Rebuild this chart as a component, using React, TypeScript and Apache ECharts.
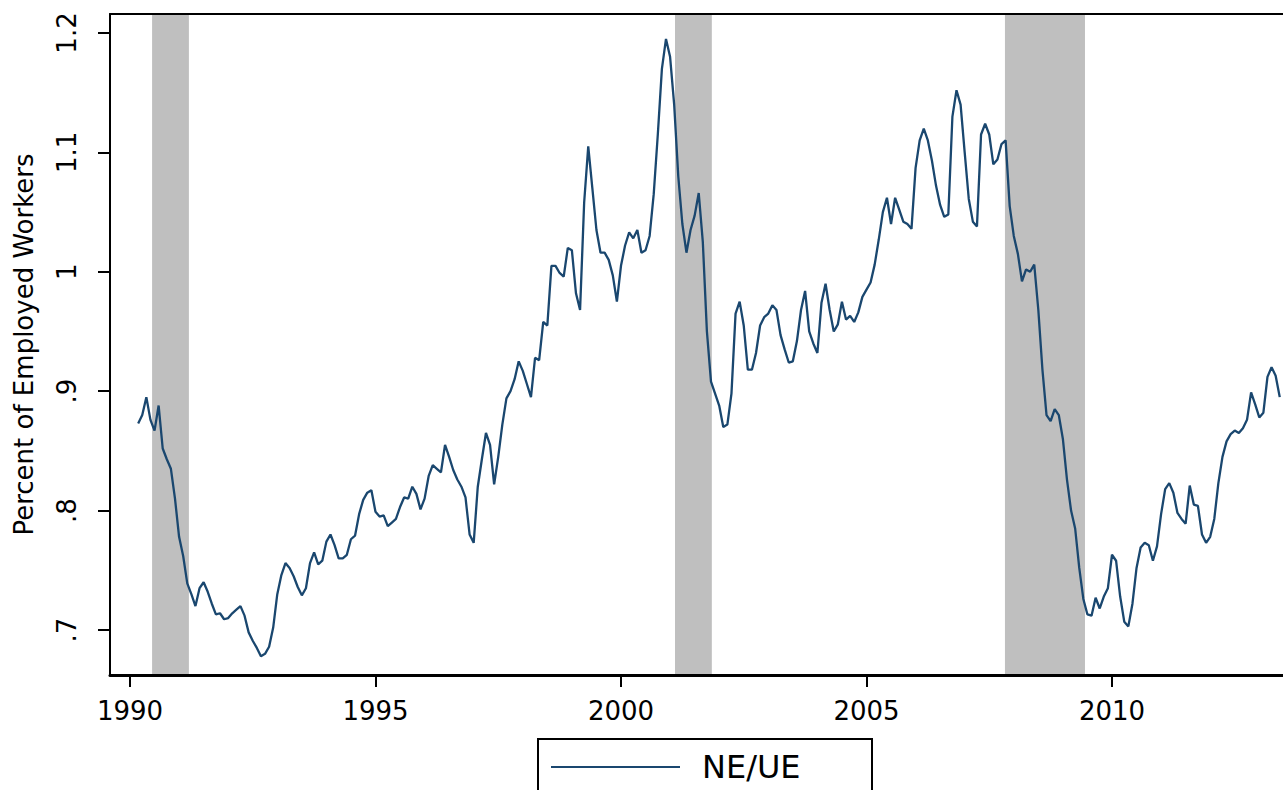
import { useEffect, useRef } from "react";
import * as echarts from "echarts";

// Monthly NE/UE series, first observation March 1990
const START_YEAR = 1990 + 2 / 12;

const neUe1990_93 = [
  0.873, 0.88, 0.895, 0.876, 0.867, 0.888, 0.852, 0.843, 0.835, 0.81,
  0.778, 0.762, 0.739, 0.73, 0.72, 0.735, 0.74, 0.732, 0.722, 0.713,
  0.714, 0.709, 0.71, 0.714, 0.717, 0.72, 0.712, 0.698, 0.691, 0.685,
  0.678, 0.68, 0.686, 0.702, 0.73, 0.746, 0.756, 0.752, 0.745, 0.736,
  0.729, 0.735, 0.756, 0.765, 0.755, 0.758, 0.774, 0.78,
];
const neUe1994_98 = [
  0.771, 0.76, 0.76, 0.763, 0.776, 0.779, 0.797, 0.809, 0.815, 0.817,
  0.799, 0.795, 0.796, 0.787, 0.79, 0.793, 0.803, 0.811, 0.81, 0.82,
  0.814, 0.801, 0.81, 0.829, 0.838, 0.835, 0.832, 0.855, 0.845, 0.834,
  0.826, 0.82, 0.811, 0.78, 0.773, 0.82, 0.843, 0.865, 0.855, 0.822,
  0.845, 0.872, 0.894, 0.9, 0.91, 0.925, 0.917, 0.906, 0.895,
];
const neUe1998_02 = [
  0.928, 0.926, 0.958, 0.955, 1.005, 1.005, 0.999, 0.996, 1.02, 1.018,
  0.982, 0.968, 1.058, 1.105, 1.07, 1.035, 1.016, 1.016, 1.01, 0.997,
  0.975, 1.005, 1.022, 1.033, 1.028, 1.035, 1.016, 1.018, 1.03, 1.065,
  1.115, 1.17, 1.195, 1.18, 1.14, 1.08, 1.04, 1.016, 1.035, 1.047,
  1.066, 1.025, 0.95, 0.908, 0.898, 0.888, 0.87, 0.872,
];
const neUe2002_06 = [
  0.898, 0.965, 0.975, 0.955, 0.918, 0.918, 0.932, 0.955, 0.962, 0.965,
  0.972, 0.968, 0.947, 0.935, 0.924, 0.925, 0.942, 0.968, 0.984, 0.95,
  0.94, 0.932, 0.974, 0.99, 0.968, 0.95, 0.956, 0.975, 0.96, 0.963,
  0.958, 0.966, 0.979, 0.985, 0.991, 1.006, 1.027, 1.05, 1.062, 1.04,
  1.062, 1.052, 1.042, 1.04, 1.036, 1.087, 1.11, 1.12,
];
const neUe2006_10 = [
  1.11, 1.093, 1.072, 1.056, 1.046, 1.048, 1.13, 1.152, 1.14, 1.1,
  1.061, 1.042, 1.038, 1.115, 1.124, 1.115, 1.09, 1.094, 1.107, 1.11,
  1.055, 1.03, 1.015, 0.992, 1.002, 1.0, 1.006, 0.968, 0.918, 0.88,
  0.875, 0.885, 0.88, 0.86, 0.826, 0.8, 0.785, 0.752, 0.726, 0.713,
  0.712, 0.727, 0.718, 0.728, 0.735, 0.763, 0.758, 0.728, 0.707,
];
const neUe2010_13 = [
  0.703, 0.722, 0.752, 0.769, 0.773, 0.771, 0.758, 0.77, 0.797, 0.818,
  0.823, 0.815, 0.798, 0.793, 0.789, 0.821, 0.805, 0.804, 0.78, 0.773,
  0.778, 0.793, 0.823, 0.845, 0.858, 0.864, 0.867, 0.865, 0.869, 0.876,
  0.899, 0.889, 0.878, 0.882, 0.912, 0.92, 0.913, 0.895,
];

// Recession periods (shaded bands), in decimal years
const recessions: [number, number][] = [
  [1990.45, 1991.2],
  [2001.1, 2001.85],
  [2007.82, 2009.45],
];

const xTicks = [1990, 1995, 2000, 2005, 2010];
const yTicks = [0.7, 0.8, 0.9, 1, 1.1, 1.2];

const X_MIN = 1989.593;
const X_MAX = 2013.483;
const Y_MIN = 0.6623;
const Y_MAX = 1.2159;

const FONT = "DejaVu Sans";
const NAVY = "#1a476f";

export default function App() {
  const ref = useRef<HTMLDivElement>(null);

  useEffect(() => {
    if (!ref.current) return;
    const chart = echarts.init(ref.current, undefined, { renderer: "svg" });
    const values = [
      ...neUe1990_93,
      ...neUe1994_98,
      ...neUe1998_02,
      ...neUe2002_06,
      ...neUe2006_10,
      ...neUe2010_13,
    ];
    const data = values.map((v, i) => [START_YEAR + i / 12, v]);
    const fmtY = (v: number) => {
      const s = String(Math.round(v * 10) / 10);
      return s.startsWith("0") ? s.slice(1) : s;
    };

    chart.setOption({
      animation: false,
      backgroundColor: "#ffffff",
      grid: {
        left: 110,
        top: 14,
        right: 0,
        bottom: 115,
        show: false,
      },
      xAxis: [
        {
          type: "value",
          position: "bottom",
          min: X_MIN,
          max: X_MAX,
          z: 5,
          axisLine: { show: true, onZero: false, lineStyle: { color: "#000", width: 3 } },
          axisTick: {
            show: true,
            customValues: xTicks,
            length: 12,
            lineStyle: { color: "#000", width: 2 },
          },
          axisLabel: {
            customValues: xTicks,
            margin: 23,
            fontSize: 26,
            fontFamily: FONT,
            color: "#000",
            formatter: (v: number) => String(Math.round(v)),
          },
          splitLine: { show: false },
        },
        {
          type: "value",
          position: "top",
          min: X_MIN,
          max: X_MAX,
          z: 5,
          axisLine: { show: true, onZero: false, lineStyle: { color: "#000", width: 2 } },
          axisTick: { show: false },
          axisLabel: { show: false },
          splitLine: { show: false },
        },
      ],
      yAxis: {
        type: "value",
        min: Y_MIN,
        max: Y_MAX,
        z: 5,
        name: "Percent of Employed Workers",
        nameLocation: "middle",
        nameRotate: 90,
        nameGap: 73,
        nameTextStyle: { fontSize: 26, fontFamily: FONT, color: "#000" },
        axisLine: { show: true, onZero: false, lineStyle: { color: "#000", width: 2 } },
        axisTick: {
          show: true,
          customValues: yTicks,
          length: 12,
          lineStyle: { color: "#000", width: 2 },
        },
        axisLabel: {
          customValues: yTicks,
          rotate: 90,
          margin: 30,
          fontSize: 26,
          fontFamily: FONT,
          color: "#000",
          formatter: fmtY,
        },
        splitLine: { show: false },
      },
      legend: {
        left: 551,
        top: 751,
        padding: 0,
        itemWidth: 129,
        itemHeight: 2,
        icon: "rect",
        selectedMode: false,
        data: ["NE/UE"],
        textStyle: {
          fontSize: 32,
          fontFamily: FONT,
          color: "#000",
          padding: [0, 0, 0, 17],
        },
      },
      graphic: [
        {
          type: "rect",
          silent: true,
          shape: { x: 538, y: 739, width: 334, height: 100 },
          style: { fill: "none", stroke: "#000", lineWidth: 2 },
        },
      ],
      series: [
        {
          type: "line",
          name: "NE/UE",
          xAxisIndex: 0,
          data,
          symbol: "none",
          z: 3,
          lineStyle: { color: NAVY, width: 2.3 },
          itemStyle: { color: NAVY },
          markArea: {
            silent: true,
            itemStyle: { color: "#bfbfbf" },
            data: recessions.map(([a, b]) => [{ xAxis: a }, { xAxis: b }]),
          },
        },
      ],
    });
    return () => chart.dispose();
  }, []);

  return (
    <div
      ref={ref}
      style={{ position: "fixed", left: 0, top: 0, width: 1283, height: 790, background: "#fff" }}
    />
  );
}
